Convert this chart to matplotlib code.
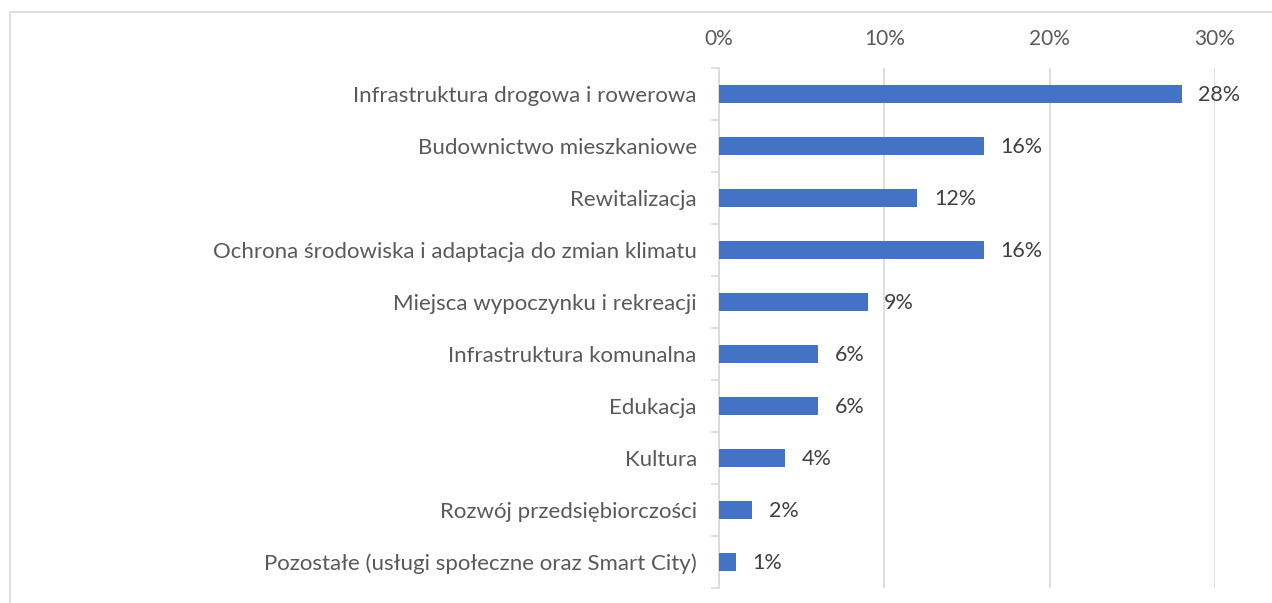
import matplotlib.pyplot as plt
from matplotlib.patches import Rectangle
from matplotlib.ticker import FixedLocator, PercentFormatter

categories = [
    'Infrastruktura drogowa i rowerowa',
    'Budownictwo mieszkaniowe',
    'Rewitalizacja',
    'Ochrona środowiska i adaptacja do zmian klimatu',
    'Miejsca wypoczynku i rekreacji',
    'Infrastruktura komunalna',
    'Edukacja',
    'Kultura',
    'Rozwój przedsiębiorczości',
    'Pozostałe (usługi społeczne oraz Smart City)',
]
values = [28, 16, 12, 16, 9, 6, 6, 4, 2, 1]
x_ticks = [0, 10, 20, 30]

plt.rcParams['font.family'] = ['Lato', 'DejaVu Sans']
text_color = '#595959'
grid_color = '#D9D9D9'

fig = plt.figure(figsize=(12.72, 6.03), dpi=100)
W, H = 1272, 603
ax = fig.add_axes([719 / W, 1 - 588 / H, (1215 - 719) / W, (588 - 68) / H])

# outer chart border
fig.patches.append(Rectangle((10 / W, -0.05), 1.1, 1.05 - 12 / H,
                             transform=fig.transFigure, fill=False,
                             edgecolor=grid_color, linewidth=1.2))

pos = list(range(len(categories)))
ax.barh(pos, values, height=0.35, color='#4472C4', zorder=3)
for p, v in zip(pos, values):
    ax.text(v + 1.0, p + 0.02, f'{v}%', va='center', ha='left',
            fontsize=15.5, color='#404040')

ax.set_xlim(0, 30)
ax.set_ylim(len(categories) - 0.5, -0.5)
ax.set_xticks(x_ticks)
ax.xaxis.set_major_formatter(PercentFormatter(decimals=0))
ax.xaxis.tick_top()
ax.tick_params(axis='x', length=0, labelsize=15, labelcolor=text_color, pad=14)
ax.grid(axis='x', color=grid_color, linewidth=1.2, zorder=0)

ax.set_yticks(pos)
ax.set_yticklabels(categories)
ax.tick_params(axis='y', which='major', length=0, labelsize=16,
               labelcolor=text_color, pad=16)
ax.yaxis.set_minor_locator(FixedLocator([p - 0.5 for p in pos] + [pos[-1] + 0.5]))
ax.tick_params(axis='y', which='minor', length=6, color=grid_color, width=1.2)

for side in ['top', 'right', 'bottom']:
    ax.spines[side].set_visible(False)
ax.spines['left'].set_color(grid_color)
ax.spines['left'].set_linewidth(1.2)

fig.savefig('out.png', dpi=100)
